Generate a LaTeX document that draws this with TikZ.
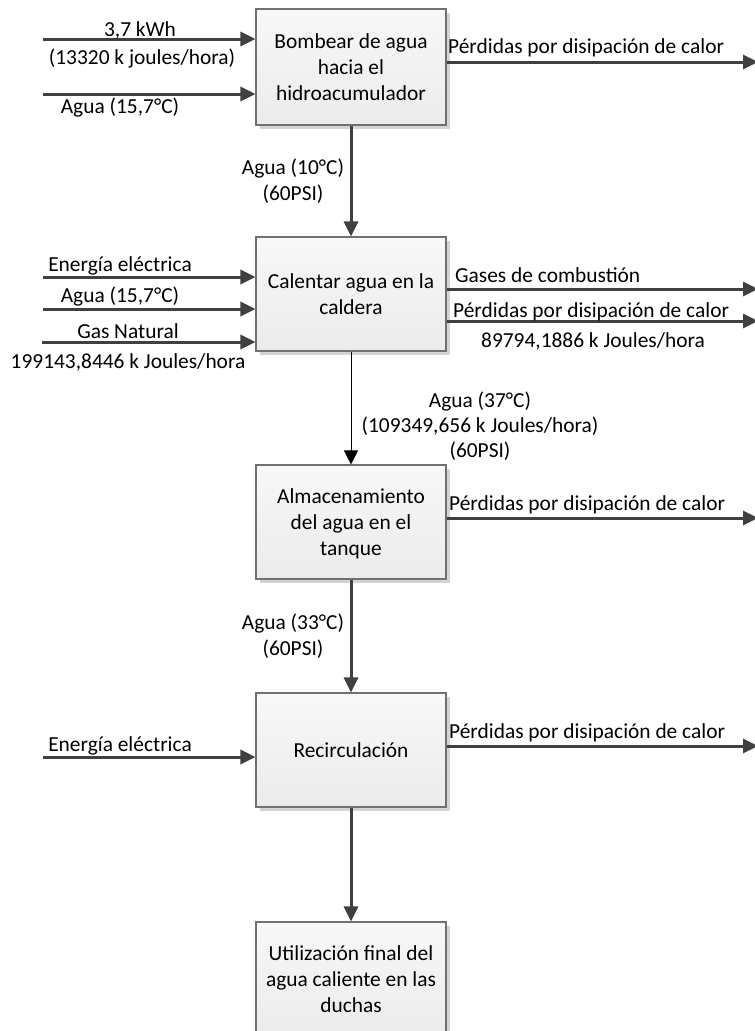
\documentclass[tikz,border=0pt]{standalone}
\usepackage{fontspec}
\setmainfont{Carlito}
\usetikzlibrary{arrows.meta,shadows}

\definecolor{linegray}{HTML}{404040}
\definecolor{boxedge}{HTML}{707070}
\definecolor{boxtop}{HTML}{F8F8F8}
\definecolor{boxbot}{HTML}{EBEBEB}
\definecolor{shadegray}{HTML}{D4D4D4}

\tikzset{
  every node/.style={font=\fontsize{21.4pt}{26pt}\selectfont},
  stage/.style={draw=boxedge, line width=1.1pt, top color=boxtop, bottom color=boxbot,
    minimum width=190pt, minimum height=114pt, align=center, text depth=0pt, inner sep=0pt,
    drop shadow={shadow xshift=3.5pt, shadow yshift=-3.5pt, fill=shadegray, opacity=1}},
  flow/.style={draw=linegray, line width=3pt, -{Triangle[length=15pt,width=14pt]}},
  thinflow/.style={draw=black, line width=0.9pt, -{Triangle[length=14pt,width=14pt]}},
  lbl/.style={inner sep=0pt, anchor=base},
  lblw/.style={inner sep=0pt, anchor=base west},
}

\begin{document}
\begin{tikzpicture}[x=1pt, y=-1pt]
  \clip (0,0) rectangle (755,1031);

  % process stages
  \node[stage, minimum height=116pt] (b1) at (351,67) {Bombear de agua\\hacia el\\hidroacumulador};
  \node[stage] (b2) at (351,294) {Calentar agua en la\\caldera};
  \node[stage] (b3) at (351,522) {Almacenamiento\\del agua en el\\tanque};
  \node[stage] (b4) at (351,750) {Recirculación};
  \node[stage] (b5) at (351,979) {Utilización final del\\agua caliente en las\\duchas};

  % free ends of the side arrows
  \coordinate (i1a) at (43,39);
  \coordinate (i1b) at (43,94);
  \coordinate (o1)  at (758,62);
  \coordinate (i2a) at (43,277);
  \coordinate (i2b) at (43,309);
  \coordinate (i2c) at (42,342);
  \coordinate (o2a) at (758,289);
  \coordinate (o2b) at (758,321);
  \coordinate (o3)  at (758,518);
  \coordinate (i4)  at (43,757);
  \coordinate (o4)  at (758,746);

  % stage 1
  \draw[flow] (i1a) -- (i1a -| b1.west);
  \draw[flow] (i1b) -- (i1b -| b1.west);
  \draw[flow] (o1 -| b1.east) -- (o1);
  \node[lbl] (l1a) at (140,36) {3,7 kWh};
  \node[lbl] (l1b) at (142,64) {(13320 k joules/hora)};
  \node[lbl] (l1c) at (120,113) {Agua (15,7°C)};
  \node[lblw] (l1d) at (448,53) {Pérdidas por disipación de calor};

  % stage 1 -> stage 2
  \draw[flow] (b1) -- (b2);
  \node[lbl] (l12a) at (293,174) {Agua (10°C)};
  \node[lbl] (l12b) at (293,200) {(60PSI)};

  % stage 2
  \draw[flow] (i2a) -- (i2a -| b2.west);
  \draw[flow] (i2b) -- (i2b -| b2.west);
  \draw[flow] (i2c) -- (i2c -| b2.west);
  \draw[flow] (o2a -| b2.east) -- (o2a);
  \draw[flow] (o2b -| b2.east) -- (o2b);
  \node[lbl] (l2a) at (120,271) {Energía eléctrica};
  \node[lbl] (l2b) at (120,302) {Agua (15,7°C)};
  \node[lbl] (l2c) at (128,338) {Gas Natural};
  \node[lbl] (l2d) at (128,368) {199143,8446 k Joules/hora};
  \node[lblw] (l2e) at (455,282) {Gases de combustión};
  \node[lblw] (l2f) at (453,317) {Pérdidas por disipación de calor};
  \node[lbl] (l2g) at (593,347) {89794,1886 k Joules/hora};

  % stage 2 -> stage 3
  \draw[thinflow] (b2) -- (b3);
  \node[lbl] (l23a) at (480,407) {Agua (37°C)};
  \node[lbl] (l23b) at (480,432) {(109349,656 k Joules/hora)};
  \node[lbl] (l23c) at (480,457) {(60PSI)};

  % stage 3
  \draw[flow] (o3 -| b3.east) -- (o3);
  \node[lblw] (l3a) at (449,510) {Pérdidas por disipación de calor};

  % stage 3 -> stage 4
  \draw[flow] (b3) -- (b4);
  \node[lbl] (l34a) at (293,629) {Agua (33°C)};
  \node[lbl] (l34b) at (293,655) {(60PSI)};

  % stage 4
  \draw[flow] (i4) -- (i4 -| b4.west);
  \draw[flow] (o4 -| b4.east) -- (o4);
  \node[lbl] (l4a) at (120,751) {Energía eléctrica};
  \node[lblw] (l4b) at (449,738) {Pérdidas por disipación de calor};

  % stage 4 -> stage 5
  \draw[flow] (b4) -- (b5);
\end{tikzpicture}
\end{document}
